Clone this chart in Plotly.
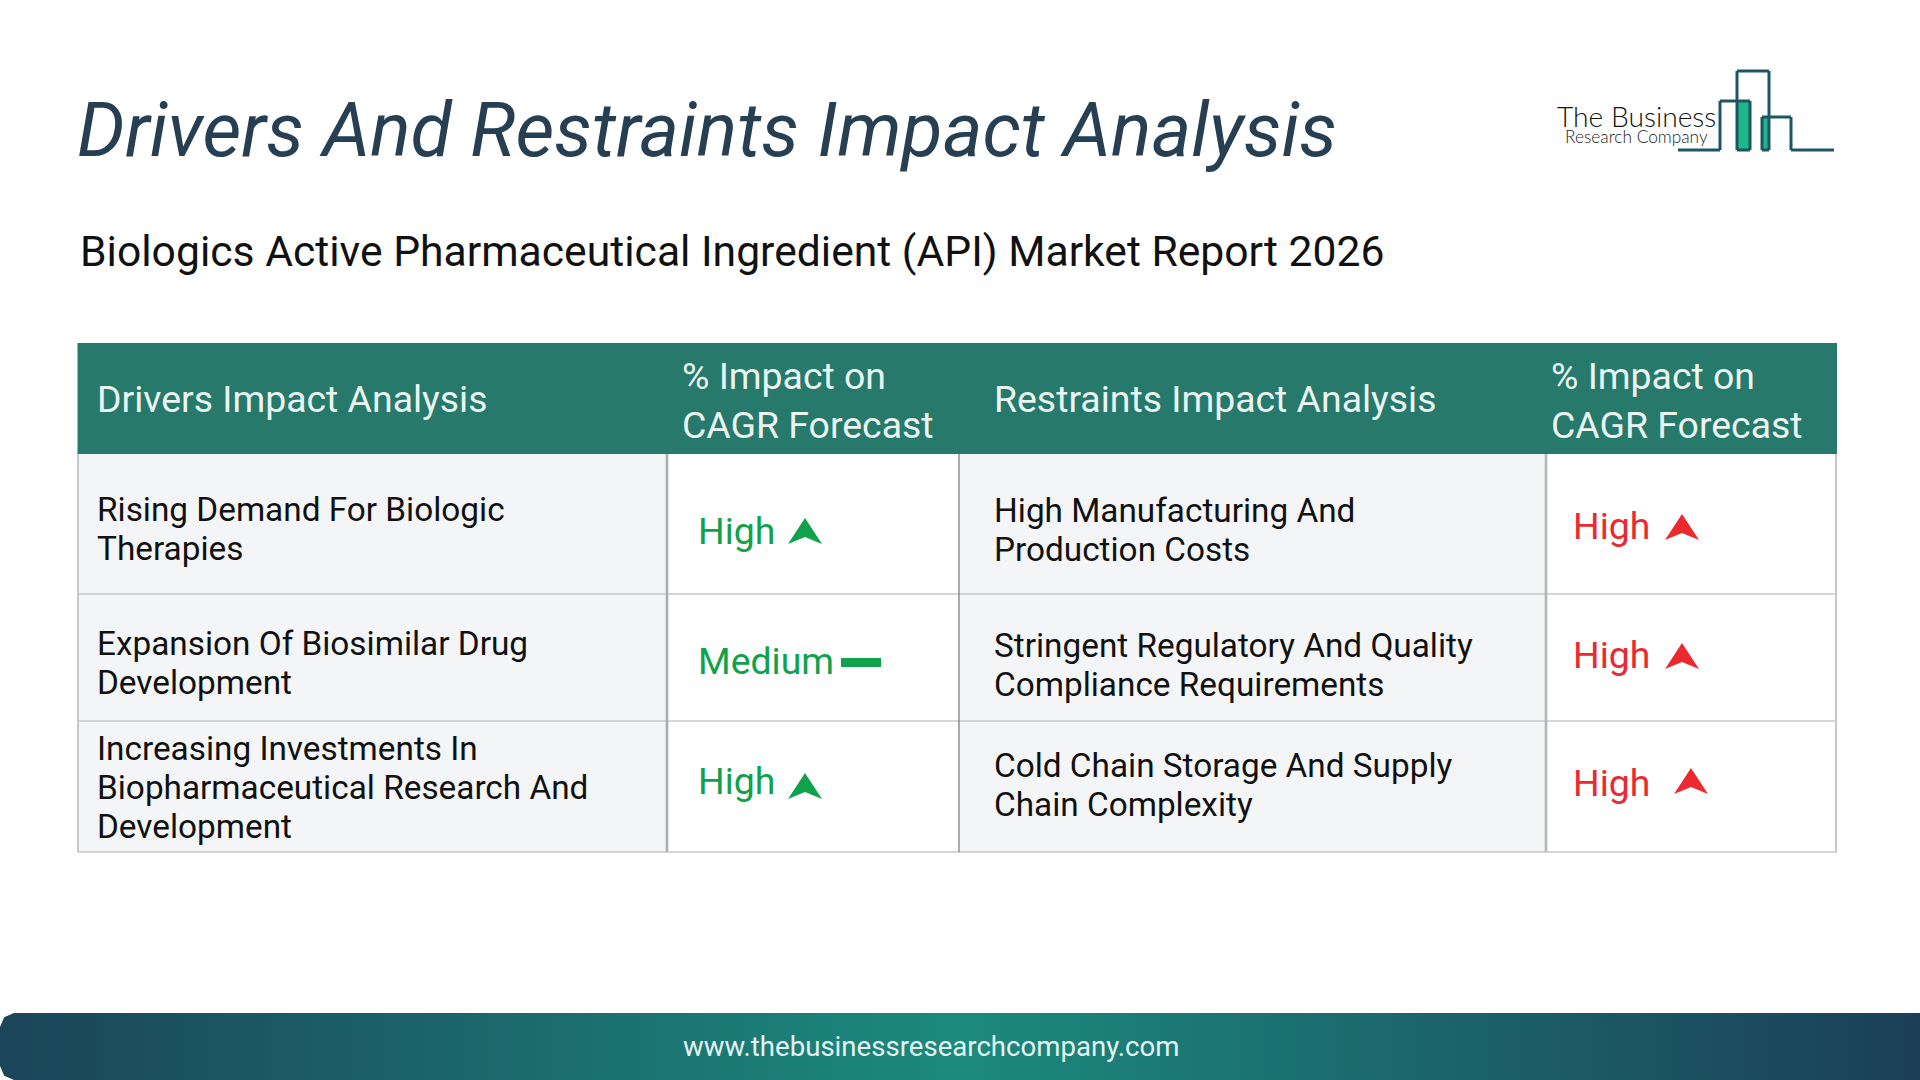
import plotly.graph_objects as go

TITLE = "Drivers And Restraints Impact Analysis"
SUBTITLE = "Biologics Active Pharmaceutical Ingredient (API) Market Report 2026"
HEADERS = ["Drivers Impact Analysis", ["% Impact on", "CAGR Forecast"],
           "Restraints Impact Analysis", ["% Impact on", "CAGR Forecast"]]
drivers = [["Rising Demand For Biologic", "Therapies"],
           ["Expansion Of Biosimilar Drug", "Development"],
           ["Increasing Investments In", "Biopharmaceutical Research And", "Development"]]
driver_levels = ["High", "Medium", "High"]
restraints = [["High Manufacturing And", "Production Costs"],
              ["Stringent Regulatory And Quality", "Compliance Requirements"],
              ["Cold Chain Storage And Supply", "Chain Complexity"]]
restraint_levels = ["High", "High", "High"]
FOOTER = "www.thebusinessresearchcompany.com"

FONT = "Roboto"
GREEN, RED = "#0fa24a", "#ea2a2e"
HEAD = "#26796b"
LINE = "#c6c8cb"
DARK = "#263f52"
LOGO = "#1c5664"
LOGO_FILL = "#1fb688"

fig = go.Figure()
shapes, ann = [], []

def text(x, y, s, size, color="#111111", anchor="left", family=FONT, style="normal", weight=None):
    f = dict(family=family, size=size, color=color, style=style)
    if weight:
        f["weight"] = weight
    ann.append(dict(x=x, y=y, xref="x", yref="y", text=s, showarrow=False, xanchor=anchor,
                    yanchor="middle", font=f, align=anchor))

def rect(x0, y0, x1, y1, fill):
    shapes.append(dict(type="rect", xref="x", yref="y", x0=x0, y0=y0, x1=x1, y1=y1,
                       fillcolor=fill, line_width=0, layer="below"))

def seg(x0, y0, x1, y1, color=LINE, width=2):
    shapes.append(dict(type="line", xref="x", yref="y", x0=x0, y0=y0, x1=x1, y1=y1,
                       line=dict(color=color, width=width)))

def arrow(x0, top, color):
    w, h, n = 34, 26, 19
    p = f"M{x0},{top+h} L{x0+w/2},{top} L{x0+w},{top+h} L{x0+w/2},{top+n} Z"
    shapes.append(dict(type="path", xref="x", yref="y", path=p, fillcolor=color, line_width=0))

# table geometry
L, C1, C2, C3, R = 78, 667, 959, 1546, 1836
T, H, Y1, Y2, B = 343, 454, 594, 721, 852
rect(L, H, C1, B, "#f3f5f7")
rect(C2, H, C3, B, "#f3f5f7")
rect(L - 0.5, T, R + 1, H, HEAD)
for y in (Y1, Y2, B):
    seg(L, y, R + 1, y, width=1.7)
seg(L, H, L, B)
seg(C1, H, C1, B, "#a9abae", 2.6)
seg(C2, H, C2, B, "#7d7f82", 1.3)
seg(C3, H, C3, B, "#b4b6b9", 2.6)
seg(R, H, R, B)

# header
HS = 37.4
text(94.5, 399, HEADERS[0], HS, "#eaf4f1")
text(991.5, 399, HEADERS[2], HS, "#eaf4f1")
for x, idx in ((679.5, 1), (1549, 3)):
    text(x, 376, HEADERS[idx][0], HS, "#eaf4f1")
    text(x, 425, HEADERS[idx][1], HS, "#eaf4f1")

# row text
CS = 33.35
driver_y = [[509, 548], [643.5, 682.5], [748, 787, 826]]
rest_y = [[510, 549], [645, 684], [765, 804]]
for lines, ys in zip(drivers, driver_y):
    for s, y in zip(lines, ys):
        text(94.5, y, s, CS)
for lines, ys in zip(restraints, rest_y):
    for s, y in zip(lines, ys):
        text(991.5, y, s, CS)

# ratings
for lv, y, top in zip(driver_levels, [530.5, 660.5, 780.5], [518, None, 773]):
    text(695.5, y, lv, 37.4, GREEN)
    if lv == "High":
        arrow(788, top, GREEN)
    else:
        rect(841, 658, 881, 667, GREEN)
for lv, y, top, ax in zip(restraint_levels, [525.5, 654.5, 782.5], [514, 643, 768], [1665, 1665, 1674]):
    text(1571, y, lv, 37.4, RED)
    arrow(ax, top, RED)

# title
text(75, 129.5, TITLE, 75.45, DARK, style="italic")
text(77.5, 251, SUBTITLE, 42.65, "#111111")

# logo
seg(1678, 150, 1720, 150, LOGO, 3)
seg(1720, 150, 1720, 101, LOGO, 3)
seg(1720, 101, 1750, 101, LOGO, 3)
rect(1737, 101, 1750, 150, LOGO_FILL)
rect(1763, 117, 1769, 150, LOGO_FILL)
for a in [(1750, 101, 1750, 150), (1737, 150, 1750, 150), (1737, 150, 1737, 71), (1737, 71, 1769, 71),
          (1769, 71, 1769, 150), (1762, 150, 1769, 150), (1762, 150, 1762, 117), (1762, 117, 1791, 117),
          (1791, 117, 1791, 150), (1791, 150, 1834, 150)]:
    seg(*a, LOGO, 3)
text(1636, 116, "The Business", 28.2, "#111111", "center", family="Lato", weight=300)
text(1636, 136, "Research Company", 17.3, "#1a1a1a", "center", family="Lato", weight=300)

# footer band with gradient fill
r = 14
fx = [0, r * 0.3, r, 1920, 1920, r, r * 0.3, 0, 0]
fy = [1013 + r, 1013 + r * 0.3, 1013, 1013, 1080, 1080, 1080 - r * 0.3, 1080 - r, 1013 + r]
fig.add_trace(go.Scatter(x=fx, y=fy, mode="lines", fill="toself", line_width=0, hoverinfo="skip",
                         fillgradient=dict(type="horizontal",
                                           colorscale=[[0, "#1b4558"], [0.5, "#1b8a7e"], [1, "#1b3f56"]])))
text(931, 1046.5, FOOTER, 27.6, "#e4f3f0", "center")

fig.update_layout(width=1920, height=1080, margin=dict(l=0, r=0, t=0, b=0), showlegend=False,
                  paper_bgcolor="white", plot_bgcolor="white", shapes=shapes, annotations=ann,
                  xaxis=dict(range=[0, 1920], visible=False, fixedrange=True),
                  yaxis=dict(range=[1080, 0], visible=False, fixedrange=True))
fig.write_html("out.html", config=dict(displayModeBar=False),
               post_script="document.body.style.margin='0';document.body.style.overflow='hidden';")
